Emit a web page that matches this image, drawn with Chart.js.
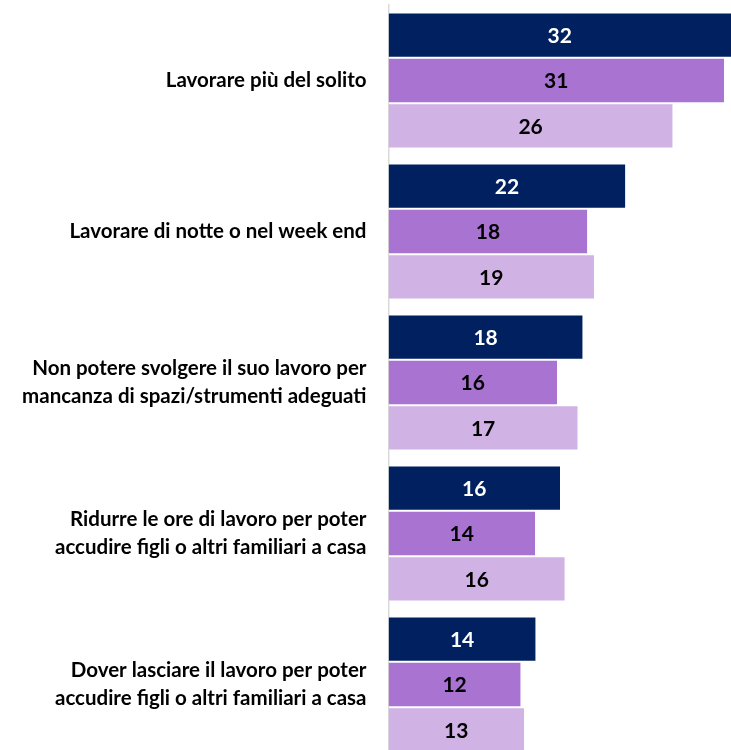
<!DOCTYPE html>
<html>
<head>
<meta charset="utf-8">
<script src="https://cdn.jsdelivr.net/npm/chart.js@4"></script>
<style>
  html, body { margin:0; padding:0; background:#fff; overflow:hidden; }
  #wrap { width:731px; height:760px; position:relative; }
</style>
</head>
<body>
<div id="wrap"><canvas id="barChart"></canvas></div>
<script>
// categorie (etichette asse y)
let categorie = [
  "Lavorare più del solito",
  "Lavorare di notte o nel week end",
  ["Non potere svolgere il suo lavoro per", "mancanza di spazi/strumenti adeguati"],
  ["Ridurre le ore di lavoro per poter", "accudire figli o altri familiari a casa"],
  ["Dover lasciare il lavoro per poter", "accudire figli o altri familiari a casa"]
];

// valori (lunghezza barre)
let serie1 = [32.0, 21.97, 18.01, 15.91, 13.65];
let serie2 = [31.12, 18.44, 15.63, 13.59, 12.26];
let serie3 = [26.36, 19.06, 17.55, 16.35, 12.57];

// etichette mostrate sulle barre
let etichette1 = ["32", "22", "18", "16", "14"];
let etichette2 = ["31", "18", "16", "14", "12"];
let etichette3 = ["26", "19", "17", "16", "13"];

let colori = ["#002060", "#a873d1", "#d0b2e4"];
let coloriTesto = ["#ffffff", "#000000", "#000000"];

// plugin per scrivere i numeri dentro le barre
const valoriPlugin = {
  id: "valori",
  afterDatasetsDraw(chart) {
    const ctx = chart.ctx;
    const tutte = [etichette1, etichette2, etichette3];
    chart.data.datasets.forEach((ds, i) => {
      const meta = chart.getDatasetMeta(i);
      meta.data.forEach((bar, j) => {
        ctx.save();
        ctx.font = "bold 21px Lato";
        ctx.fillStyle = coloriTesto[i];
        ctx.textAlign = "center";
        ctx.textBaseline = "middle";
        const xc = (bar.base + Math.min(bar.x, chart.chartArea.right)) / 2;
        ctx.fillText(tutte[i][j], xc, bar.y + 1);
        ctx.restore();
      });
    });
  }
};

new Chart(document.getElementById("barChart"), {
  type: "bar",
  data: {
    labels: categorie,
    datasets: [
      { data: serie1, backgroundColor: colori[0] },
      { data: serie2, backgroundColor: colori[1] },
      { data: serie3, backgroundColor: colori[2] }
    ]
  },
  options: {
    indexAxis: "y",
    responsive: true,
    maintainAspectRatio: false,
    animation: false,
    layout: { padding: { top: 5, left: 0, right: 0, bottom: 0 } },
    datasets: {
      bar: {
        barPercentage: 1,
        categoryPercentage: 0.9,
        borderWidth: { top: 1, bottom: 1 },
        borderColor: "#ffffff",
        borderSkipped: false
      }
    },
    plugins: {
      legend: { display: false },
      tooltip: { enabled: false }
    },
    scales: {
      x: {
        display: false,
        min: 0,
        max: 31.77
      },
      y: {
        grid: { display: false, drawTicks: false },
        border: { display: true, color: "#d9d9d9", width: 1.5 },
        ticks: {
          color: "#000000",
          padding: 22,
          font: { family: "Lato", weight: "bold", size: 20.5, lineHeight: 1.37 }
        },
        afterFit(scale) {
          scale.width = 388.5;
          scale.paddingTop = 0;
          scale.paddingBottom = 0;
        }
      }
    }
  },
  plugins: [valoriPlugin]
});
</script>
</body>
</html>
